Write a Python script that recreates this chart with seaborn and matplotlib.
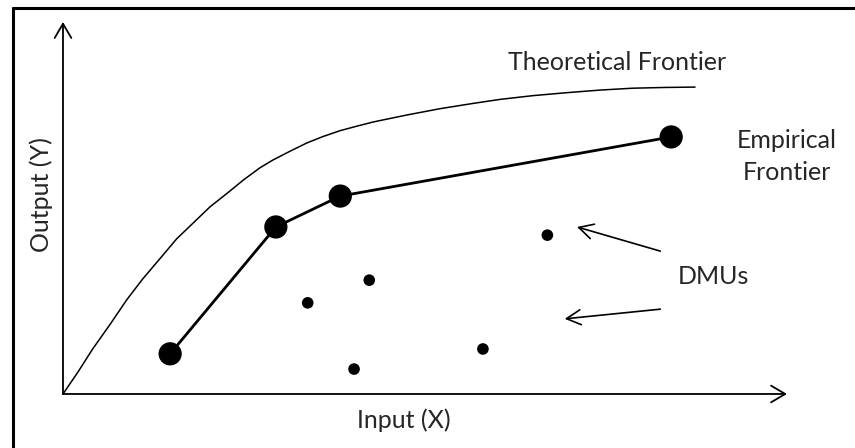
import matplotlib
matplotlib.use("Agg")
import matplotlib.pyplot as plt
from matplotlib.lines import Line2D
import seaborn as sns
import pandas as pd

# ---- data (units: axis length = 10) ----
theo_x = [0.00, 0.21, 0.41, 0.65, 0.88, 1.10, 1.34, 1.57, 1.80, 2.03, 2.27, 2.49, 2.72, 2.90,
          3.14, 3.37, 3.59, 3.83, 4.06, 4.28, 4.75, 5.21, 5.66, 6.04, 6.49, 6.96, 7.42, 7.87,
          8.31, 8.73]
theo_y = [0.00, 0.60, 1.21, 1.87, 2.53, 3.09, 3.64, 4.17, 4.60, 5.03, 5.40, 5.75, 6.08, 6.29,
          6.53, 6.75, 6.92, 7.08, 7.20, 7.31, 7.50, 7.67, 7.81, 7.92, 8.02, 8.10, 8.17, 8.22,
          8.24, 8.25]

emp_x = [1.48, 2.94, 3.83, 8.40]
emp_y = [1.08, 4.49, 5.32, 6.91]

dmu_x = [3.38, 4.23, 4.02, 5.80, 6.69]
dmu_y = [2.45, 3.06, 0.67, 1.21, 4.27]

x_label = "Input (X)"
y_label = "Output (Y)"
theo_label = "Theoretical Frontier"
emp_label = "Empirical\nFrontier"
dmu_label = "DMUs"

sns.set_theme(style="white")
plt.rcParams['font.family'] = ['Lato', 'DejaVu Sans']

fig = plt.figure(figsize=(8.55, 4.48), dpi=100)
ax = fig.add_axes([0, 0, 1, 1])
ax.set_xlim(-0.870, 10.939)
ax.set_ylim(-1.452, 10.591)
ax.axis('off')

theo = pd.DataFrame({"x": theo_x, "y": theo_y})
emp = pd.DataFrame({"x": emp_x, "y": emp_y})
dmu = pd.DataFrame({"x": dmu_x, "y": dmu_y})

sns.lineplot(data=theo, x="x", y="y", sort=False, estimator=None, color="black", lw=1.1,
             solid_joinstyle="round", ax=ax)
sns.lineplot(data=emp, x="x", y="y", sort=False, estimator=None, color="black", lw=2.0, ax=ax)
sns.scatterplot(data=emp, x="x", y="y", color="black", s=280, edgecolor="none", ax=ax, zorder=5)
sns.scatterplot(data=dmu, x="x", y="y", color="black", s=70, edgecolor="none", ax=ax, zorder=5)

# axes arrows
arr = dict(arrowstyle="->,head_length=0.85,head_width=0.5", color="black", lw=1.3, shrinkA=0, shrinkB=0)
ax.annotate("", xy=(10, 0), xytext=(0, 0), arrowprops=arr)
ax.annotate("", xy=(0, 10), xytext=(0, 0), arrowprops=arr)

# DMU pointer arrows
arr2 = dict(arrowstyle="->,head_length=0.85,head_width=0.45", color="black", lw=1.2, shrinkA=0, shrinkB=0)
ax.annotate("", xy=(7.10, 4.49), xytext=(8.25, 3.84), arrowprops=arr2)
ax.annotate("", xy=(6.93, 2.02), xytext=(8.25, 2.28), arrowprops=arr2)

fs = 18
ax.text(4.71, -0.70, x_label, ha="center", va="center", fontsize=fs)
ax.text(-0.30, 5.35, y_label, ha="center", va="center", rotation=90, fontsize=fs)
ax.text(7.65, 8.90, theo_label, ha="center", va="center", fontsize=fs)
ax.text(10.0, 6.38, emp_label, ha="center", va="center", fontsize=fs, linespacing=1.45, multialignment="center")
ax.text(8.98, 3.17, dmu_label, ha="center", va="center", fontsize=fs)

# frame lines (left and top only visible)
W, H = 855, 448
fig.add_artist(Line2D([12.5 / W, 12.5 / W], [0, 1 - 8 / H], color="black", lw=2.2, transform=fig.transFigure))
fig.add_artist(Line2D([12.5 / W, 1], [1 - 8 / H, 1 - 8 / H], color="black", lw=2.2, transform=fig.transFigure))

fig.savefig("out.png", dpi=100)
